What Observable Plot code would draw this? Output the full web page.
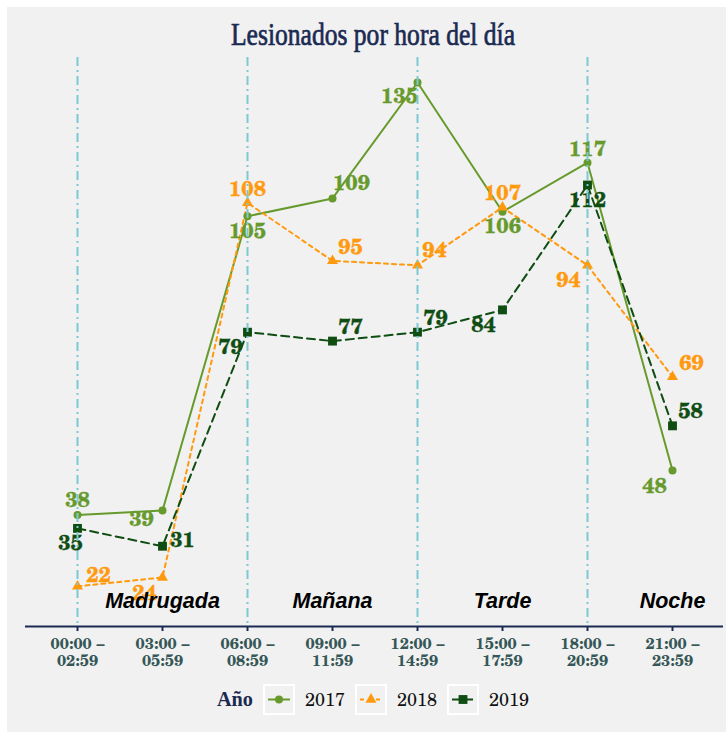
<!DOCTYPE html>
<html><head><meta charset="utf-8">
<script src="https://cdn.jsdelivr.net/npm/d3@7"></script>
<script src="https://cdn.jsdelivr.net/npm/@observablehq/plot@0.6"></script>
<style>
html,body{margin:0;padding:0;background:#fff;}
#page{position:relative;width:726px;height:732px;overflow:hidden;background:#fff;}
#panel{position:absolute;left:7px;top:7px;width:719px;height:725px;background:#f1f1f1;}
#chart{position:absolute;left:0;top:0;}
#title{position:absolute;left:0;top:0;}
#legend{position:absolute;left:0;top:680px;}
</style></head><body>
<div id="page"><div id="panel"></div><svg id="title" width="726" height="56"></svg><div id="chart"></div><svg id="legend" width="726" height="50"></svg></div>
<script>
// ---- data ----
const hours = ["00:00","03:00","06:00","09:00","12:00","15:00","18:00","21:00"];
const tickLabels = ["00:00 –\n02:59","03:00 –\n05:59","06:00 –\n08:59","09:00 –\n11:59","12:00 –\n14:59","15:00 –\n17:59","18:00 –\n20:59","21:00 –\n23:59"];
const years = ["2017","2018","2019"];
const v2017 = [38,39,105,109,135,106,117,48];
const v2018 = [22,24,108,95,94,107,94,69];
const v2019 = [35,31,79,77,79,84,112,58];
const periods = ["Madrugada","Mañana","Tarde","Noche"];
const periodStarts = ["00:00","06:00","12:00","18:00"];
const periodLabelAt = ["03:00","09:00","15:00","21:00"];
const titleText = "Lesionados por hora del día";
const legendTitle = "Año";

// ---- label nudges (px) ----
const n2017 = [[0,-15],[-21,9],[0,15],[19,-15],[-18,14],[0,14],[0,-14],[-18,16]];
const n2018 = [[21,-11],[-18,16],[0,-14],[18,-14],[17,-15],[0,-14],[-19,15],[19,-14]];
const n2019 = [[-7,15],[20,-6],[-17,15],[18,-14],[18,-14],[-19,15],[0,15],[18,-15]];

// ---- styles ----
const NAVY = "#1b2a52";
const TICK = "#355757";
const VLINE = "#7cc9d1";
const SCHOLA = "'TeX Gyre Schola', 'DejaVu Serif', serif";
const series = [
  {year: years[0], values: v2017, nudge: n2017, color: "#679a2d", dash: null, symbol: "circle", r: 4},
  {year: years[1], values: v2018, nudge: n2018, color: "#ff9a0f", dash: "4,4", symbol: "triangle", r: 4.1},
  {year: years[2], values: v2019, nudge: n2019, color: "#0f4d12", dash: "8,5", symbol: "square", r: 5}
];

const marks = [Plot.ruleY([13], {stroke: NAVY, strokeWidth: 2})];
for (const s of series) {
  const rows = hours.map((h, i) => ({hour: h, value: s.values[i]}));
  marks.push(Plot.line(rows, {x: "hour", y: "value", stroke: s.color, strokeWidth: 2, strokeDasharray: s.dash}));
}
for (const s of series) {
  const rows = hours.map((h, i) => ({hour: h, value: s.values[i]}));
  marks.push(Plot.dot(rows, {x: "hour", y: "value", fill: s.color, symbol: s.symbol, r: s.r}));
}
for (const s of series) {
  hours.forEach((h, i) => {
    marks.push(Plot.text([{hour: h, value: s.values[i]}], {
      x: "hour", y: "value", text: d => String(d.value),
      dx: s.nudge[i][0], dy: s.nudge[i][1],
      fill: s.color, stroke: s.color, strokeWidth: 0.3,
      fontSize: 21.5, fontWeight: "bold", fontFamily: SCHOLA
    }));
  });
}
marks.push(Plot.ruleX(periodStarts, {stroke: VLINE, strokeWidth: 2, strokeDasharray: "9,4,2,4"}));
marks.push(Plot.text(periods.map((p, i) => ({p, at: periodLabelAt[i]})), {
  x: "at", y: () => 18.6, text: "p", fill: "#000", fontSize: 21.5, fontWeight: "bold",
  fontStyle: "italic", fontFamily: "'Liberation Sans', Arial, sans-serif"
}));
marks.push(Plot.axisX({
  tickSize: 5, tickPadding: 5, stroke: NAVY, strokeWidth: 2, fill: TICK,
  fontSize: 16, fontWeight: "bold", fontFamily: SCHOLA, lineHeight: 1.07,
  tickFormat: h => tickLabels[hours.indexOf(h)]
}));

const chart = Plot.plot({
  width: 726, height: 680,
  marginTop: 57, marginBottom: 54, marginLeft: 25, marginRight: 3,
  style: {background: "transparent", overflow: "visible"},
  x: {type: "point", domain: hours, padding: 0.585, axis: null},
  y: {domain: [13, 140.6], axis: null},
  marks
});
document.getElementById("chart").appendChild(chart);

// ---- title ----
const tsv = d3.select("#title");
tsv.append("text").attr("x", 373).attr("y", 45).attr("text-anchor", "middle")
  .attr("font-family", "'Liberation Serif', serif").attr("font-size", 31)
  .attr("fill", NAVY).attr("textLength", 284).attr("lengthAdjust", "spacingAndGlyphs")
  .attr("stroke", NAVY).attr("stroke-width", 0.7)
  .text(titleText);

// ---- legend ----
const lg = d3.select("#legend");
lg.append("text").attr("x", 235).attr("y", 26).attr("text-anchor", "middle")
  .attr("font-family", "'Liberation Serif', serif").attr("font-weight", "bold").attr("font-size", 21)
  .attr("fill", NAVY).attr("textLength", 36).attr("lengthAdjust", "spacingAndGlyphs").text(legendTitle);
series.forEach((s, i) => {
  const x0 = 264 + i * 92, y0 = 5;
  lg.append("rect").attr("x", x0).attr("y", y0).attr("width", 30).attr("height", 29)
    .attr("fill", "#f1f1f1").attr("stroke", "#fff").attr("stroke-width", 2);
  lg.append("line").attr("x1", x0 + 4).attr("x2", x0 + 26).attr("y1", y0 + 14.5).attr("y2", y0 + 14.5)
    .attr("stroke", s.color).attr("stroke-width", 2).attr("stroke-dasharray", s.dash);
  const sym = s.symbol === "circle" ? d3.symbolCircle : s.symbol === "triangle" ? d3.symbolTriangle : d3.symbolSquare;
  lg.append("path").attr("d", d3.symbol(sym, Math.PI * s.r * s.r)())
    .attr("transform", `translate(${x0 + 15},${y0 + 14.5})`).attr("fill", s.color);
  lg.append("text").attr("x", x0 + 41).attr("y", y0 + 21).attr("font-family", SCHOLA)
    .attr("font-size", 18).attr("fill", "#111").text(s.year);
});
</script>
</body></html>
